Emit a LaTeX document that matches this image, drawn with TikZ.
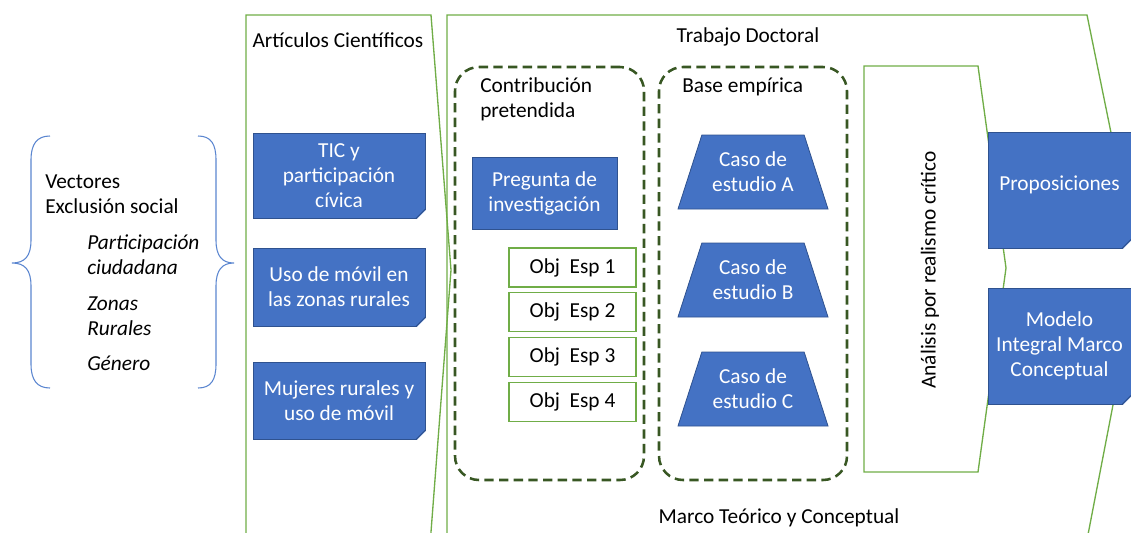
\documentclass[tikz,border=0pt]{standalone}
\usepackage{fontspec}
\setmainfont{Carlito}
\usetikzlibrary{shapes,positioning,calc}

\definecolor{officeblue}{HTML}{4472C4}
\definecolor{officeblueline}{HTML}{2F528F}
\definecolor{foldblue}{HTML}{365C9F}
\definecolor{framegreen}{HTML}{70AD47}
\definecolor{dashgreen}{HTML}{385723}
\definecolor{bracecol}{HTML}{5B86D0}

\tikzset{
  notebox/.style={draw=officeblueline, fill=officeblue, text=white, align=center, line width=0.6pt, inner sep=2pt},
  trapbox/.style={trapezium, trapezium left angle=71, trapezium right angle=71, trapezium stretches body=true,
    draw=officeblueline, fill=officeblue, text=white, align=center, line width=0.6pt,
    minimum width=112.5pt, minimum height=55.5pt, inner xsep=1pt, inner ysep=11pt},
  objbox/.style={draw=framegreen, fill=white, line width=0.9pt, minimum width=95.25pt, minimum height=29.25pt},
  dashbox/.style={draw=dashgreen, line width=1.9pt, dash pattern=on 7pt off 4pt, rounded corners=18pt},
  frameline/.style={draw=framegreen, line width=1pt},
}

\begin{document}
\begin{tikzpicture}[x=0.75pt, y=-0.75pt, font=\fontsize{16}{18.75}\selectfont]
    \useasboundingbox (0,0) rectangle (1131,532);
    \clip (0,0) rectangle (1131,532);

    % Frames
    \draw[frameline] (246,545) -- (246,15) -- (431,15) -- (451,270) -- (430,545);
    \draw[frameline] (447,545) -- (447,15) -- (1087,15) -- (1139,270) -- (1086,545);
    \draw[frameline] (864,66) -- (978,66) -- (1006,268) -- (978,472) -- (864,472) -- cycle;

    % Vectores
    \draw[bracecol, line width=0.8pt] (50,136) .. controls (37,136) and (31,144) .. (31,160) -- (31,240)
        .. controls (31,256) and (25,263) .. (12,263) .. controls (25,263) and (31,270) .. (31,286)
        -- (31,364) .. controls (31,380) and (37,388) .. (50,388);
    \draw[bracecol, line width=0.8pt] (198,136) .. controls (211,136) and (216,144) .. (216,160) -- (216,240)
        .. controls (216,256) and (222,263) .. (234,263) .. controls (222,263) and (216,270) .. (216,286)
        -- (216,364) .. controls (216,380) and (211,388) .. (198,388);
    \node[anchor=west, align=left, inner sep=0pt] (vec) at (45,194.5) {Vectores\\Exclusión social};
    \node[anchor=west, align=left, inner sep=0pt, font=\fontsize{16}{18.75}\selectfont\itshape] (factores) at (87,303)
        {Participación\\ciudadana\\[8pt]Zonas\\Rurales\\[8pt]Género};

    % Articulos
    \node (arttitle) at (338,40) {Artículos Científicos};
    \node[notebox, minimum width=129pt, minimum height=63.75pt] (tic) at (339,175.5) {TIC y\\participación\\cívica};
    \node[notebox, minimum width=129pt, minimum height=58.5pt] (uso) at (339,287) {Uso de móvil en\\las zonas rurales};
    \node[notebox, minimum width=129pt, minimum height=57.75pt] (muj) at (339,400.5) {Mujeres rurales y\\uso de móvil};

    % Trabajo doctoral
    \node (trabtitle) at (748,37) {Trabajo Doctoral};
    \node (marco) at (779,518) {Marco Teórico y Conceptual};

    \node[dashbox, minimum width=141.75pt, minimum height=309.75pt] (contrib) at (549.5,273.5) {};
    \node[anchor=west, align=left, inner sep=0pt] (contribtitle) at (480,99.5) {Contribución\\pretendida};
    \node[notebox, minimum width=108.75pt, minimum height=54pt] (pregunta) at (544.5,193) {Pregunta de\\investigación};
    \foreach \i in {1,...,4}
        \node[objbox] (obj\i) at (572.5,{267.5+44.8*(\i-1)}) {Obj\ \ Esp \i};

    \node[dashbox, minimum width=141pt, minimum height=309.75pt] (base) at (753,273.5) {};
    \node[anchor=west, inner sep=0pt] (basetitle) at (682,87) {Base empírica};
    \node[trapbox] (casoA) at (753,172) {Caso de\\estudio A};
    \node[trapbox] (casoB) at (753,280) {Caso de\\estudio B};
    \node[trapbox] (casoC) at (753,389) {Caso de\\estudio C};

    \node[rotate=90] (analisis) at (930,270) {Análisis por realismo crítico};

    \node[notebox, minimum width=107.25pt, minimum height=87pt] (prop) at (1059.5,190) {Proposiciones\\[-8pt]};
    \node[notebox, minimum width=107.25pt, minimum height=87pt] (modelo) at (1059.5,346) {Modelo\\Integral Marco\\Conceptual};

    % folded corners
    \foreach \n in {tic,uso,muj,prop,modelo} {
        \fill[white] ([shift={(1pt,-1pt)}]\n.south east) -- ([shift={(-7pt,-1pt)}]\n.south east) -- ([shift={(1pt,7pt)}]\n.south east) -- cycle;
        \filldraw[fill=foldblue, draw=officeblueline, line width=0.6pt] ([xshift=-7pt]\n.south east) -- ([yshift=7pt]\n.south east) -- ([shift={(-5.5pt,1.5pt)}]\n.south east) -- cycle;
    }
\end{tikzpicture}
\end{document}
